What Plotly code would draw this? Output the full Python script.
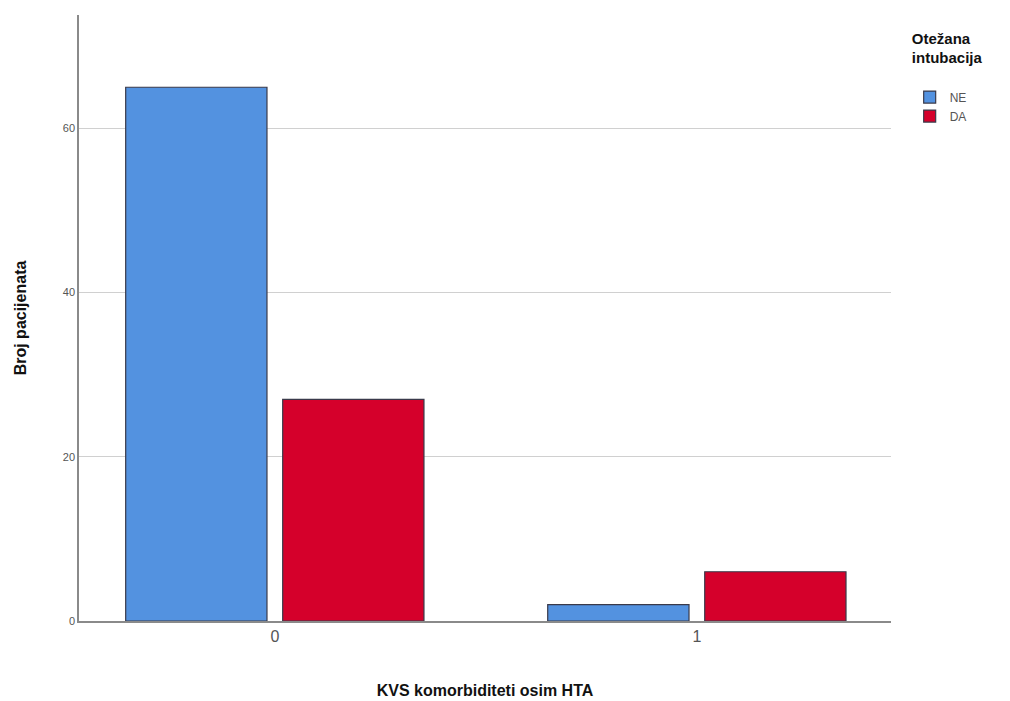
import plotly.graph_objects as go

categories = ["0", "1"]
ne_values = [65, 2]
da_values = [27, 6]
series_names = ["NE", "DA"]
y_ticks = [0, 20, 40, 60]

fig = go.Figure()
fig.add_trace(go.Bar(x=categories, y=ne_values, name=series_names[0],
                     marker=dict(color="#5392E0", line=dict(color="#3a3a4a", width=1.2))))
fig.add_trace(go.Bar(x=categories, y=da_values, name=series_names[1],
                     marker=dict(color="#D5002B", line=dict(color="#3a3a4a", width=1.2))))

fig.update_layout(
    width=1010, height=701,
    margin=dict(l=71, r=127, t=7, b=88),
    paper_bgcolor="white", plot_bgcolor="white",
    barmode="group", bargap=0.256, bargroupgap=0.10,
    font=dict(family="Liberation Sans, Arial, sans-serif", color="#222"),
    legend=dict(
        x=1.023, xanchor="left", y=0.985, yanchor="top",
        title=dict(text="<b>Otežana<br>intubacija</b><br> ", font=dict(size=15, color="#111"), side="top center"),
        font=dict(size=12, color="#555"),
        itemwidth=30, tracegroupgap=0,
    ),
    showlegend=True,
)
fig.update_xaxes(
    type="category", range=[-0.464, 1.46],
    showline=True, linecolor="#8a8a8a", linewidth=1.5,
    showgrid=False, ticks="",
    tickfont=dict(size=16, color="#555"),
    title=dict(text="<b>KVS komorbiditeti osim HTA</b>", font=dict(size=16, color="#111"), standoff=41),
)
fig.update_yaxes(
    range=[0, 73.8], tickvals=y_ticks,
    showline=True, linecolor="#8a8a8a", linewidth=1.5,
    showgrid=True, gridcolor="#d0d0d0", gridwidth=1.2,
    zeroline=False, ticks="",
    tickfont=dict(size=11, color="#555"),
    title=dict(text="<b>Broj pacijenata</b>", font=dict(size=16, color="#111"), standoff=32),
)
fig.write_html("out.html")
